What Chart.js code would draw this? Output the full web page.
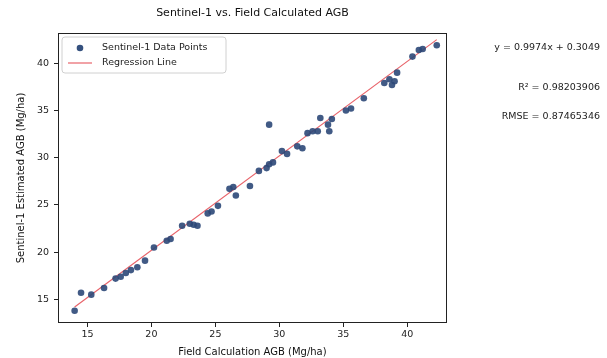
<!DOCTYPE html>
<html>
<head>
<meta charset="utf-8">
<script src="https://cdn.jsdelivr.net/npm/chart.js"></script>
<style>
  html, body { margin: 0; padding: 0; background: #fff; }
  #wrap { width: 607px; height: 358px; }
</style>
</head>
<body>
<div id="wrap"><canvas id="chart" width="607" height="358"></canvas></div>
<script>
const fieldAGB = [14.0, 14.5, 15.3, 16.3, 17.2, 17.6, 18.0, 18.4, 18.9, 19.5,
                  20.2, 21.2, 21.5, 22.4, 23.0, 23.3, 23.6, 24.4, 24.7, 25.2,
                  26.1, 26.4, 26.6, 27.7, 28.4, 29.0, 29.2, 29.5, 29.2, 30.2,
                  30.6, 31.4, 31.8, 32.2, 32.6, 33.0, 33.2, 33.8, 33.9, 34.1,
                  35.2, 35.6, 36.6, 38.2, 38.6, 39.0, 39.2, 38.8, 40.4, 40.9,
                  41.2, 42.3];
const sentinelAGB = [13.8, 15.7, 15.5, 16.2, 17.2, 17.4, 17.8, 18.1, 18.4, 19.1,
                     20.5, 21.2, 21.4, 22.8, 23.0, 22.9, 22.8, 24.1, 24.3, 24.9,
                     26.7, 26.9, 26.0, 27.0, 28.6, 28.9, 29.3, 29.5, 33.5, 30.7,
                     30.4, 31.2, 31.0, 32.6, 32.8, 32.8, 34.2, 33.5, 32.8, 34.1,
                     35.0, 35.2, 36.3, 37.9, 38.3, 38.1, 39.0, 37.7, 40.7, 41.4,
                     41.5, 41.9];
// regression line end points
const lineX = [14.0, 42.3];
const lineY = [14.2, 42.5];
const tickValues = [15, 20, 25, 30, 35, 40];
const statsText = ["y = 0.9974x + 0.3049", "R\u00b2 = 0.98203906", "RMSE = 0.87465346"];

const FONT = "'DejaVu Sans', sans-serif";

const scatterPts = fieldAGB.map((x, i) => ({ x: x, y: sentinelAGB[i] }));
const linePts = lineX.map((x, i) => ({ x: x, y: lineY[i] }));

const extras = {
    id: "extras",
    afterDraw(chart) {
        const ctx = chart.ctx;
        const a = chart.chartArea;
        ctx.save();
        // frame
        ctx.strokeStyle = "#222";
        ctx.lineWidth = 1;
        ctx.strokeRect(a.left + 0.5, a.top + 0.5, a.right - a.left - 1, a.bottom - a.top - 1);

        // title
        ctx.fillStyle = "#111";
        ctx.font = "11px " + FONT;
        ctx.textAlign = "center";
        ctx.textBaseline = "middle";
        ctx.fillText("Sentinel-1 vs. Field Calculated AGB", (a.left + a.right) / 2, 13);

        // legend box
        const lx = a.left + 4, ly = a.top + 4, lw = 164, lh = 36;
        ctx.fillStyle = "rgba(255,255,255,0.85)";
        ctx.strokeStyle = "#d0d0d0";
        ctx.beginPath();
        ctx.roundRect(lx, ly, lw, lh, 3);
        ctx.fill();
        ctx.stroke();
        ctx.fillStyle = "#34507e";
        ctx.beginPath();
        ctx.arc(lx + 18, ly + 11, 3.3, 0, Math.PI * 2);
        ctx.fill();
        ctx.strokeStyle = "#e8636a";
        ctx.lineWidth = 1.2;
        ctx.beginPath();
        ctx.moveTo(lx + 6, ly + 26);
        ctx.lineTo(lx + 30, ly + 26);
        ctx.stroke();
        ctx.fillStyle = "#222";
        ctx.font = "9.5px " + FONT;
        ctx.textAlign = "left";
        ctx.fillText("Sentinel-1 Data Points", lx + 40, ly + 11);
        ctx.fillText("Regression Line", lx + 40, ly + 26);

        // stats text on the right
        ctx.textAlign = "right";
        ctx.font = "9.5px " + FONT;
        ctx.fillStyle = "#222";
        ctx.fillText(statsText[0], 600, 48);
        ctx.fillText(statsText[1], 600, 88);
        ctx.fillText(statsText[2], 600, 117);
        ctx.restore();
    }
};

new Chart(document.getElementById("chart"), {
    type: "scatter",
    data: {
        datasets: [
            {
                label: "Regression Line",
                type: "line",
                data: linePts,
                borderColor: "#e8636a",
                borderWidth: 1.2,
                pointRadius: 0,
                fill: false,
                order: 2
            },
            {
                label: "Sentinel-1 Data Points",
                data: scatterPts,
                backgroundColor: "rgba(44,72,120,0.9)",
                borderColor: "rgba(44,72,120,0.9)",
                borderWidth: 0,
                pointRadius: 3.3,
                order: 1
            }
        ]
    },
    options: {
        responsive: false,
        animation: false,
        layout: { padding: { top: 33, right: 160, left: 0, bottom: 0 } },
        plugins: {
            legend: { display: false },
            tooltip: { enabled: false },
            title: { display: false }
        },
        scales: {
            x: {
                type: "linear",
                min: 12.7,
                max: 43.1,
                afterBuildTicks: (s) => { s.ticks = tickValues.map(v => ({ value: v })); },
                afterFit: (s) => { s.height = 35; },
                grid: { display: true, drawOnChartArea: false, tickLength: 4, color: "#222" },
                border: { display: false },
                ticks: { color: "#222", font: { family: FONT, size: 9.5 }, padding: 2, maxRotation: 0 },
                title: { display: true, text: "Field Calculation AGB (Mg/ha)", color: "#111",
                         font: { family: FONT, size: 10 }, padding: { top: 0, bottom: 0 } }
            },
            y: {
                type: "linear",
                min: 12.5,
                max: 43.2,
                afterBuildTicks: (s) => { s.ticks = tickValues.map(v => ({ value: v })); },
                afterFit: (s) => { s.width = 58; },
                grid: { display: true, drawOnChartArea: false, tickLength: 4, color: "#222" },
                border: { display: false },
                ticks: { color: "#222", font: { family: FONT, size: 9.5 }, padding: 5 },
                title: { display: true, text: "Sentinel-1 Estimated AGB (Mg/ha)", color: "#111",
                         font: { family: FONT, size: 10 }, padding: { top: 15, bottom: 4 } }
            }
        }
    },
    plugins: [extras]
});
</script>
</body>
</html>
